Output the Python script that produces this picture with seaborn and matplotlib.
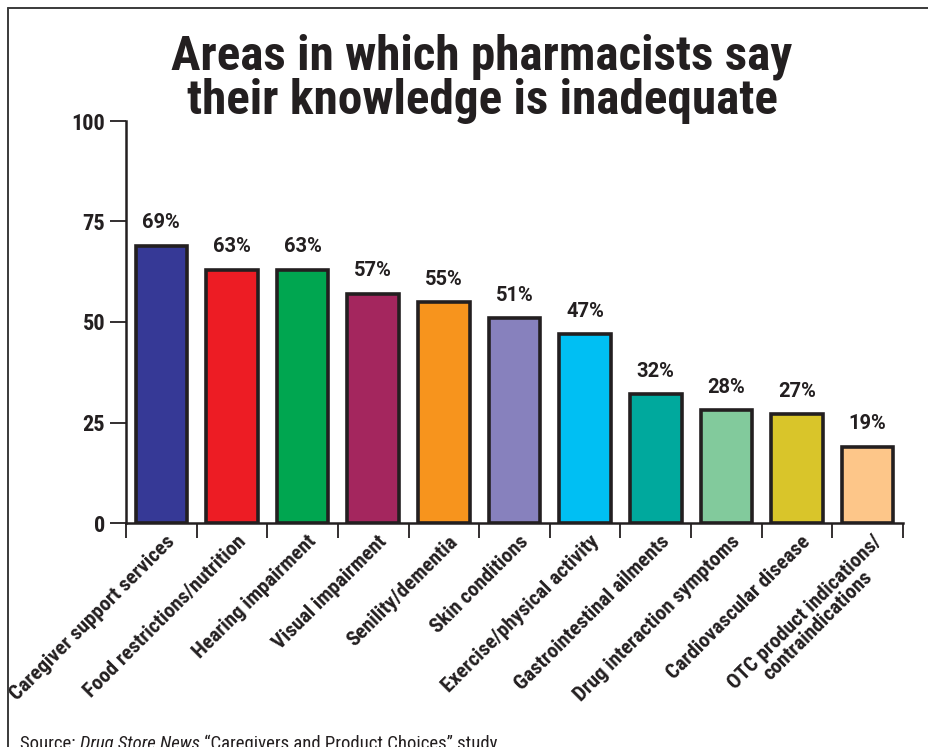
import matplotlib
matplotlib.use("Agg")
import matplotlib.pyplot as plt
from matplotlib.lines import Line2D
from matplotlib.transforms import ScaledTranslation
import seaborn as sns
import pandas as pd
import numpy as np

# Survey results
categories = [
    "Caregiver support services",
    "Food restrictions/nutrition",
    "Hearing impairment",
    "Visual impairment",
    "Senility/dementia",
    "Skin conditions",
    "Exercise/physical activity",
    "Gastrointestinal ailments",
    "Drug interaction symptoms",
    "Cardiovascular disease",
    "OTC product indications/\ncontraindications",
]
values = [69, 63, 63, 57, 55, 51, 47, 32, 28, 27, 19]
value_labels = ["69%", "63%", "63%", "57%", "55%", "51%", "47%", "32%", "28%", "27%", "19%"]
y_ticks = [0, 25, 50, 75, 100]

colors = ["#363996", "#ED1C24", "#00A650", "#A4265E", "#F7941D", "#8781BD",
          "#00BFF3", "#00A99D", "#82CA9C", "#D9C52A", "#FDC689"]

INK = "#231f20"
W, H = 929, 747
TITLE_FONT = ["Roboto Condensed", "DejaVu Sans"]
LABEL_FONT = ["Roboto", "DejaVu Sans"]

sns.set_style("white")
plt.rcParams["font.family"] = ["Roboto Condensed", "DejaVu Sans"]

df = pd.DataFrame({"area": categories, "pct": values})

fig = plt.figure(figsize=(W / 100, H / 100), dpi=100)
ax = fig.add_axes([126 / W, 1 - 523 / H, (903 - 126) / W, (523 - 121) / H])

sns.barplot(data=df, x="area", y="pct", hue="area", palette=colors,
            legend=False, width=0.73, edgecolor=INK, linewidth=2.6,
            saturation=1, ax=ax)

ax.set_xlim(-0.5, len(categories) - 0.5)
ax.set_ylim(0, 100)
ax.set_xlabel("")
ax.set_ylabel("")

# value labels above bars
for i, (v, lab) in enumerate(zip(values, value_labels)):
    ax.annotate(lab, (i, v), xytext=(0, 12.5), textcoords="offset points",
                ha="center", va="baseline", fontsize=14.5, fontweight="bold",
                family=LABEL_FONT, color=INK)

# spines
for s in ["top", "right"]:
    ax.spines[s].set_visible(False)
for s in ["left", "bottom"]:
    ax.spines[s].set_color(INK)
    ax.spines[s].set_linewidth(1.8)

# y axis
ax.set_yticks(y_ticks)
ax.set_yticklabels([str(t) for t in y_ticks], fontsize=16, fontweight="bold",
                   color=INK)
ax.tick_params(axis="y", direction="out", length=11.5, width=1.3,
               color=INK, pad=3.5, left=True)

# x axis: labels at bar centres, tick marks between bars
ax.set_xticks(range(len(categories)))
ax.set_xticklabels(categories, rotation=45, ha="right", rotation_mode="anchor",
                   fontsize=15, fontweight="bold", color=INK,
                   linespacing=0.95)
ax.tick_params(axis="x", which="major", length=0, pad=6.5)
ax.set_xticks(np.arange(-0.5, len(categories), 1.0), minor=True)
ax.tick_params(axis="x", which="minor", direction="out", length=11, width=1.3,
               color=INK, bottom=True)
shift = ScaledTranslation(4 / 100, 0, fig.dpi_scale_trans)
for lab in ax.get_xticklabels():
    lab.set_multialignment("center")
    lab.set_transform(lab.get_transform() + shift)

# title, two lines placed by baseline
for line, base in [("Areas in which pharmacists say", 70),
                   ("their knowledge is inadequate", 114)]:
    fig.text(482 / W, 1 - base / H, line, ha="center", va="baseline",
             fontsize=35.5, fontweight="bold", family=TITLE_FONT, color=INK)

# outer frame (top and left edges)
fig.add_artist(Line2D([8 / W, 8 / W], [0, 1 - 8 / H], transform=fig.transFigure,
                      color="#3a3a3a", linewidth=1.4))
fig.add_artist(Line2D([8 / W, 1], [1 - 8 / H, 1 - 8 / H], transform=fig.transFigure,
                      color="#3a3a3a", linewidth=1.4))

# source line with italic publication name
renderer = fig.canvas.get_renderer()
x = 20 / W
ybase = 1 - 749 / H
for piece, style in [("Source: ", "normal"), ("Drug Store News", "italic"),
                     (" \u201cCaregivers and Product Choices\u201d study", "normal")]:
    t = fig.text(x, ybase, piece, ha="left", va="baseline", fontsize=13.5,
                 style=style, color=INK)
    bb = t.get_window_extent(renderer=renderer)
    x += bb.width / fig.bbox.width

fig.savefig("out.png", dpi=100)
